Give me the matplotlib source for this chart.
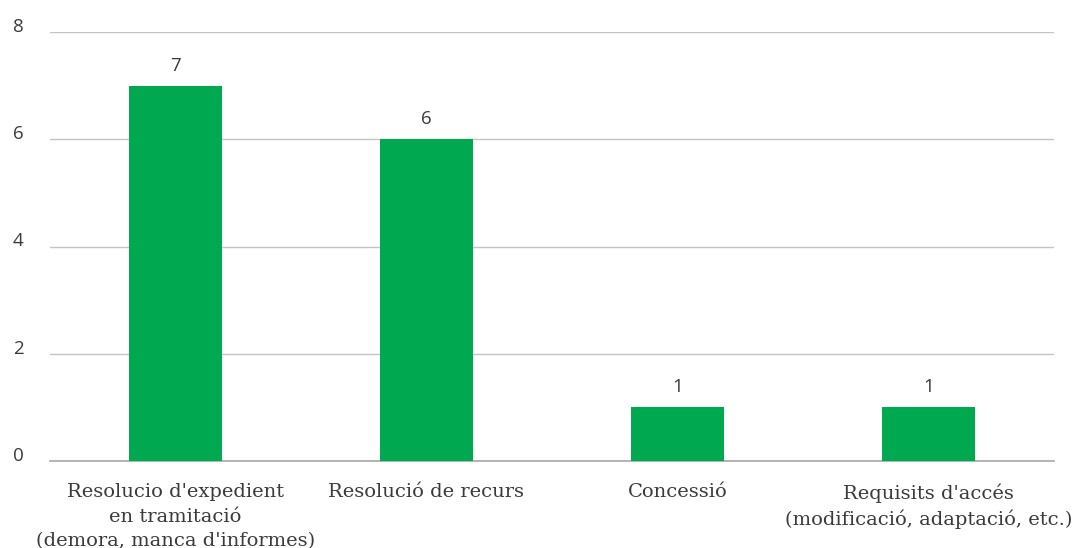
import matplotlib
matplotlib.use("Agg")
import matplotlib.pyplot as plt
import matplotlib.transforms as mtransforms

categories = [
    "Resolucio d'expedient\nen tramitació\n(demora, manca d'informes)",
    "Resolució de recurs",
    "Concessió",
    "Requisits d'accés\n(modificació, adaptació, etc.)",
]
values = [7, 6, 1, 1]
y_ticks = [0, 2, 4, 6, 8]

bar_color = "#00A84F"
grid_color = "#C4C4C4"
text_color = "#3A3A3A"

fig = plt.figure(figsize=(10.74, 5.48), dpi=100)
ax = fig.add_axes([50 / 1074, 1 - 461 / 548, 1004 / 1074, 429 / 548])

x = list(range(len(categories)))
bars = ax.bar(x, values, width=0.367, color=bar_color, zorder=3)

ax.set_xlim(-0.5, len(categories) - 0.5)
ax.set_ylim(0, 8)
ax.set_yticks(y_ticks)
ax.set_yticklabels([str(t) for t in y_ticks], fontsize=13.5, color=text_color,
                   family=["Open Sans", "DejaVu Sans"])
ax.tick_params(axis="y", length=0, pad=19)
for lbl in ax.get_yticklabels():
    lbl.set_horizontalalignment("right")
    lbl.set_transform(lbl.get_transform() + mtransforms.ScaledTranslation(0, 0.07, fig.dpi_scale_trans))

ax.set_xticks(x)
ax.set_xticklabels(categories, fontsize=14, color=text_color,
                   family=["DejaVu Serif"], linespacing=1.45)
ax.tick_params(axis="x", length=0, pad=16)

ax.grid(axis="y", color=grid_color, linewidth=1.0, zorder=0)
for side in ["left", "right", "top"]:
    ax.spines[side].set_visible(False)
ax.spines["bottom"].set_color("#A8A8A8")
ax.spines["bottom"].set_linewidth(1.2)

for rect, v in zip(bars, values):
    ax.annotate(str(v), (rect.get_x() + rect.get_width() / 2, v),
                xytext=(0, 8), textcoords="offset points",
                ha="center", va="bottom", fontsize=13.5, color=text_color,
                family=["Open Sans", "DejaVu Sans"])

fig.savefig("out.png", dpi=100)
